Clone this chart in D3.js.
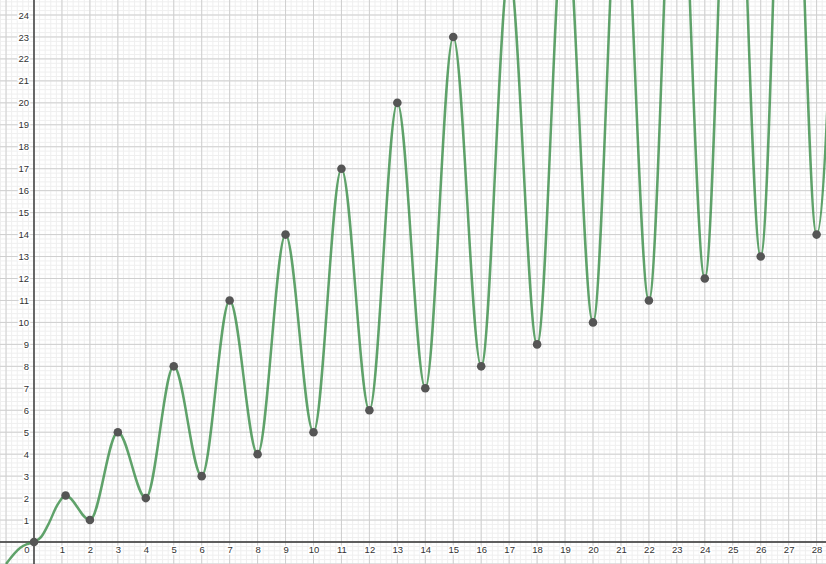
<!DOCTYPE html>
<html>
<head>
<meta charset="utf-8">
<script src="https://cdn.jsdelivr.net/npm/d3@7"></script>
<style>
body { margin: 0; background: #fff; }
text { font-family: Arial, "Liberation Sans", sans-serif; }
</style>
</head>
<body>
<div id="chart"></div>
<script>
var width = 826;
var height = 564;

// curve knots (odd x above 16 are off the top)
var curveX = [-1, -0.5, -0.25, 0, 0.25, 0.55, 0.8, 1.13, 2, 3, 4, 5, 6, 7, 8, 9, 10, 11, 12, 13, 14, 15, 16, 17, 18, 19, 20, 21, 22, 23, 24, 25, 26, 27, 28, 29];
var curveY = [-1, -0.27, -0.1, 0, 0.22, 0.9, 1.6, 2.12, 1, 5, 2, 8, 3, 11, 4, 14, 5, 17, 6, 20, 7, 23, 8, 26, 9, 29, 10, 32, 11, 35, 12, 38, 13, 41, 14, 44];

// marked points
var dotX = [0, 1.13, 2, 3, 4, 5, 6, 7, 8, 9, 10, 11, 12, 13, 14, 15, 16, 18, 20, 22, 24, 26, 28];
var dotY = [0, 2.12, 1, 5, 2, 8, 3, 11, 4, 14, 5, 17, 6, 20, 7, 23, 8, 9, 10, 11, 12, 13, 14];

var xLabels = [1, 2, 3, 4, 5, 6, 7, 8, 9, 10, 11, 12, 13, 14, 15, 16, 17, 18, 19, 20, 21, 22, 23, 24, 25, 26, 27, 28];
var yLabels = [1, 2, 3, 4, 5, 6, 7, 8, 9, 10, 11, 12, 13, 14, 15, 16, 17, 18, 19, 20, 21, 22, 23, 24];

var x = d3.scaleLinear().domain([0, 28]).range([34, 816.6]);
var y = d3.scaleLinear().domain([0, 24]).range([542, 15]);

var svg = d3.select("#chart").append("svg").attr("width", width).attr("height", height);

var x0 = x.invert(0), x1 = x.invert(width);
var y0 = y.invert(height), y1 = y.invert(0);

var minorX = d3.range(Math.ceil(x0 * 5), Math.floor(x1 * 5) + 1).map(function(i) { return i / 5; });
var minorY = d3.range(Math.ceil(y0 * 5), Math.floor(y1 * 5) + 1).map(function(i) { return i / 5; });
var majorX = d3.range(Math.ceil(x0), Math.floor(x1) + 1);
var majorY = d3.range(Math.ceil(y0), Math.floor(y1) + 1);

var grid = svg.append("g");
grid.selectAll(".mx").data(minorX).enter().append("line")
    .attr("x1", function(d) { return x(d); }).attr("x2", function(d) { return x(d); })
    .attr("y1", 0).attr("y2", height).attr("stroke", "#efefef").attr("stroke-width", 1);
grid.selectAll(".my").data(minorY).enter().append("line")
    .attr("y1", function(d) { return y(d); }).attr("y2", function(d) { return y(d); })
    .attr("x1", 0).attr("x2", width).attr("stroke", "#efefef").attr("stroke-width", 1);
grid.selectAll(".Mx").data(majorX).enter().append("line")
    .attr("x1", function(d) { return x(d); }).attr("x2", function(d) { return x(d); })
    .attr("y1", 0).attr("y2", height).attr("stroke", "#cfcfcf").attr("stroke-width", 1);
grid.selectAll(".My").data(majorY).enter().append("line")
    .attr("y1", function(d) { return y(d); }).attr("y2", function(d) { return y(d); })
    .attr("x1", 0).attr("x2", width).attr("stroke", "#cfcfcf").attr("stroke-width", 1);

// axes lines
svg.append("line").attr("x1", 0).attr("x2", width).attr("y1", y(0)).attr("y2", y(0))
    .attr("stroke", "#333").attr("stroke-width", 1.4);
svg.append("line").attr("x1", x(0)).attr("x2", x(0)).attr("y1", 0).attr("y2", height)
    .attr("stroke", "#333").attr("stroke-width", 1.4);

// tick labels
var xAxis = svg.append("g").attr("transform", "translate(0," + y(0) + ")")
    .call(d3.axisBottom(x).tickValues(xLabels).tickSize(0).tickPadding(4.5));
var yAxis = svg.append("g").attr("transform", "translate(" + x(0) + ",0)")
    .call(d3.axisLeft(y).tickValues(yLabels).tickSize(0).tickPadding(5));
[xAxis, yAxis].forEach(function(a) {
    a.select(".domain").remove();
    a.selectAll("text").attr("font-size", 9.5).attr("fill", "#333")
        .attr("stroke", "#fff").attr("stroke-width", 3).attr("paint-order", "stroke")
        .style("font-family", "Arial, 'Liberation Sans', sans-serif");
});
svg.append("text").attr("x", x(0) - 7).attr("y", y(0) + 4.5).attr("dy", "0.71em")
    .attr("text-anchor", "middle").attr("font-size", 9.5).attr("fill", "#333")
    .attr("stroke", "#fff").attr("stroke-width", 3).attr("paint-order", "stroke").text("0");

// curve
var pts = curveX.map(function(d, i) { return [d, curveY[i]]; });
var line = d3.line().curve(d3.curveMonotoneX)
    .x(function(d) { return x(d[0]); }).y(function(d) { return y(d[1]); });
svg.append("path").datum(pts).attr("d", line)
    .attr("fill", "none").attr("stroke", "#388c46").attr("stroke-opacity", 0.8)
    .attr("stroke-width", 2.5);

// dots
var dots = dotX.map(function(d, i) { return [d, dotY[i]]; });
svg.append("g").selectAll("circle").data(dots).enter().append("circle")
    .attr("cx", function(d) { return x(d[0]); }).attr("cy", function(d) { return y(d[1]); })
    .attr("r", 4.3).attr("fill", "#555");
</script>
</body>
</html>
